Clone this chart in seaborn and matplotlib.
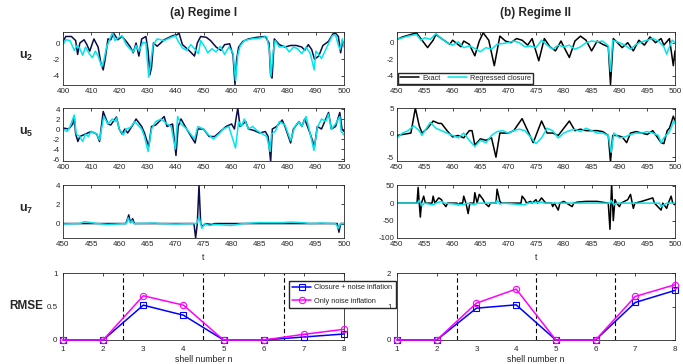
import numpy as np
import pandas as pd
import matplotlib
matplotlib.use("Agg")
import matplotlib.pyplot as plt
import seaborn as sns

sns.set_style("white")
plt.rcParams['font.family'] = ['Liberation Sans', 'DejaVu Sans']
plt.rcParams['mathtext.fontset'] = 'custom'
plt.rcParams['mathtext.rm'] = 'Liberation Sans'
plt.rcParams['mathtext.bf'] = 'Liberation Sans:bold'
plt.rcParams['axes.unicode_minus'] = False

# ---- Regime I, u2 ----
t_a2_ex = [400, 401, 403, 404.5, 405.2, 406, 407.5, 408.5, 409.5, 411, 412.5, 413.5, 414.3, 415, 416, 417, 418,
           419.5, 421, 422.5, 424, 425, 426, 427, 428, 429.5, 430.3, 430.9, 431.5, 432.2, 433.5, 436, 439, 440.5,
           441.3, 442.5, 444.5, 446.8, 447.8, 449, 451, 452.5, 454.5, 456.2, 457.5, 459.3, 460.5, 461.2, 461.8,
           462.5, 464, 466, 469, 472, 473.3, 473.9, 474.4, 475.2, 477, 479, 481, 483, 485, 486, 487.3, 488.5,
           489.5, 491, 492.5, 494.5, 496, 497, 498, 498.8, 499.5, 500]
u_a2_ex = [0.2, 0.8, 0.8, 0.3, -1.4, 0.0, 0.4, -0.2, -1.0, 0.5, -0.5, -2.5, -3.3, -2.0, 0.5, 0.4, 1.2,
           0.4, 0.8, 0.2, -0.5, -1.2, 0.0, -1.6, 0.5, 0.8, -1.0, -3.9, -3.0, 0.0, -0.4, 0.4, 0.9, 1.0,
           1.2, -0.2, -0.8, -1.6, 0.0, 0.8, 0.7, 0.3, -0.5, -0.9, -0.2, -0.1, -1.5, -5.1, -2.0,
           -0.5, 0.2, 0.5, 0.7, 0.8, 0.0, -4.0, -4.3, 0.5, -0.2, -0.5, -0.3, -0.3, -0.5, -0.9, -0.2, -0.8,
           -2.0, -1.6, -0.3, 0.2, 1.1, 1.2, 0.8, -1.2, 0.2, 0.0]
t_a2_rc = [400, 401, 402.5, 404, 405, 406, 407, 408, 409.5, 410.5, 411.5, 412.5, 413.8, 414.5, 415.5, 416.5,
           417.6, 418.5, 419.5, 421, 422.5, 423.5, 425, 426, 427, 428.5, 429.5, 430.5, 431.2, 432, 433.5, 436,
           438.5, 440, 441, 442.5, 444, 445.5, 447, 448.2, 449, 450.5, 451.5, 453, 454.5, 456, 457.5, 459,
           460.5, 461.4, 462.2, 463, 464.5, 467, 470, 472.5, 473.5, 474, 474.8, 475.5, 477, 479, 480.5, 482,
           483.5, 485, 486.5, 488, 489.4, 490, 491, 492, 493.5, 495, 495.8, 497, 498, 498.6, 499.4, 500]
u_a2_rc = [-0.2, 0.4, 0.3, -0.9, -0.3, -0.7, -1.5, -0.5, -1.4, -1.8, -1.0, -1.6, -2.9, -2.2, -0.5, 0.3,
           1.3, 0.3, 0.6, 0.9, -0.2, -0.6, -1.1, -0.3, -1.0, 0.1, 0.0, -4.2, -2.5, -0.3, 0.5, 0.3,
           0.7, 0.9, 0.2, -0.6, -0.9, -0.2, -0.8, -1.3, 0.3, -0.5, -1.2, -0.7, -1.1, -0.4, -1.4, -0.5,
           -1.2, -4.6, -1.5, -0.4, 0.3, 0.5, 0.6, 0.8, -1.0, -4.1, -1.0, 0.3, -0.5, -0.4, -1.1, -0.5,
           -0.7, -1.3, -0.5, -1.3, -3.3, -1.0, -1.4, -1.9, -0.8, 0.3, 0.9, 1.0, -0.3, -0.8, 0.5, -0.5]

# ---- Regime I, u5 ----
t_a5_ex = [400, 402, 403.5, 404, 404.5, 405.3, 406, 408, 410, 412, 413, 414.3, 416, 417, 419, 420, 421, 422,
           423, 424.5, 426, 428, 429, 430.5, 431.5, 433, 436, 437, 439, 440.2, 441, 442, 444, 447, 448, 450,
           452, 454, 456, 458, 460, 461, 462.2, 463, 465, 466, 468, 470, 472, 473, 473.9, 474.5, 476, 478,
           479, 481, 482, 484, 485, 486, 488, 489.5, 490.5, 492, 493.5, 494.5, 495.5, 497, 498.5, 499.3, 500]
u_a5_ex = [0.2, 0.0, 1.0, 2.5, -1.0, -2.5, -1.5, -1.0, -0.5, -1.0, -2.5, 3.5, 1.0, 0.8, 2.4, 0.0, -1.0, 0.0,
           -0.8, 0.5, 2.0, 0.5, -0.8, -3.5, 0.5, 0.8, 2.5, 0.5, 1.0, -5.3, 0.5, 2.0, 0.0, -2.8, 0.0, 0.0,
           -1.5, -1.5, -0.5, 0.5, 1.0, 0.0, 4.2, 0.5, 1.5, 0.0, -0.3, -0.8, -0.5, -1.5, -6.5, 0.0, 0.5, 1.8,
           0.5, -2.8, 0.0, 1.5, 0.5, 2.0, -1.0, -3.5, 0.5, 0.0, 2.0, 3.3, 0.0, 0.5, 3.3, 0.0, -0.5]
t_a5_rc = [400, 401.5, 402.5, 404, 404.7, 406, 407, 408, 409, 410, 412, 413, 414.5, 416, 417.5, 418.5, 419,
           420, 421.5, 422.5, 424, 425.5, 428, 429, 430.3, 431.5, 433, 435, 437, 438.5, 440, 440.8, 442, 444,
           446.8, 448, 450, 451.5, 453.5, 455.5, 457, 459, 461.4, 462.5, 463.5, 464.5, 466, 467.5, 469, 471,
           472.5, 473.7, 474.2, 475.5, 477, 479, 481, 482.5, 484, 485, 486.5, 488, 489.3, 490.5, 492, 493.5,
           494.5, 495.5, 497, 498.5, 499, 500]
u_a5_rc = [0.0, -0.5, 0.5, 2.8, -1.0, -1.5, -2.5, -1.0, -1.5, -0.5, -1.0, -2.2, 2.5, 1.0, 2.0, 1.5, 2.2,
           0.0, -1.2, 0.0, 0.3, 1.5, 0.0, -1.5, -4.5, 0.0, 1.5, 2.0, 1.0, 0.5, -4.0, 2.5, 1.0, 0.0,
           -2.0, 0.5, 0.0, -1.0, -2.0, -1.0, 0.0, 0.5, -3.8, 1.5, 0.5, 2.0, 0.0, 0.5, -0.3, -1.0,
           -1.5, -4.5, -1.0, -0.5, 1.5, 0.8, -2.3, 0.5, 1.5, 0.5, 2.5, -1.0, -4.3, 0.3, 2.0, 1.5,
           3.0, 0.0, 1.0, 2.5, -0.5, -1.2]

# ---- Regime I, u7 ----
t_a7_ex = [450, 461.2, 461.7, 462.0, 462.4, 462.7, 473.3, 473.6, 473.9, 474.2, 474.5, 474.8, 475.3, 476.5,
           477, 498.8, 499.1, 499.4, 500]
u_a7_ex = [0.0, 0.0, 0.9, 0.1, 0.5, 0.0, 0.0, -1.5, 0.0, 4.0, 0.0, -0.3, 0.0, -0.1,
           0.0, 0.0, -0.9, 0.0, 0.0]
t_a7_rc = [450, 453, 453.8, 455, 456, 458, 461.3, 461.6, 461.9, 462.3, 462.6, 466.5, 467, 470, 473.8, 474.2,
           474.7, 475.2, 476, 477, 480, 482, 485, 489, 490.5, 492.5, 494, 496, 498.5, 499, 499.4, 500]
u_a7_rc = [-0.05, 0.0, 0.2, 0.1, 0.0, -0.1, 0.0, 0.6, 0.1, 0.3, 0.0, 0.05, 0.0, -0.05, 0.0, 0.7,
           -0.5, 0.0, -0.2, -0.1, -0.2, 0.0, 0.1, 0.1, 0.15, 0.1, 0.0, 0.05, 0.0, -0.5, 0.0, 0.0]

# ---- Regime II, u2 ----
t_b2_ex = [450, 451, 452, 453.5, 454.5, 455.5, 456.5, 457, 458, 459.5, 460, 461.5, 462, 463, 464, 464.8, 465.5,
           466.5, 467.5, 468.5, 469.5, 470.5, 471.5, 472.5, 473.5, 474.3, 475.5, 476.5, 477.5, 478.5, 479.5,
           480, 481, 482, 483, 484, 485, 486, 487, 488, 488.4, 488.9, 489.5, 490.5, 491.5, 492.5, 493.5,
           494.5, 495.5, 496.5, 497.5, 498, 499, 499.7, 500]
u_b2_ex = [0.4, 0.7, 0.9, 1.2, 0.3, -0.6, 0.3, 1.0, 0.5, -0.2, 0.3, -0.5, 0.2, -0.2, -1.6, 0.2, 1.2,
           0.3, -2.8, 0.8, 0.2, 0.0, 0.5, 0.3, -0.3, 0.5, -2.2, 0.5, -0.5, -1.0, 0.2,
           -0.5, -1.8, 0.2, 0.8, 0.3, -1.0, 0.2, -0.2, -0.5, -5.1, 0.5, 0.1, -0.6, 0.0, -1.0, 0.3,
           -0.3, 0.7, 0.0, 0.5, -0.3, 0.5, -2.8, -1.0]
t_b2_rc = [450, 452, 453.5, 454.3, 455, 456, 457, 458, 459, 460, 461, 462, 463, 464, 465, 466, 467, 468, 470,
           471, 472, 473, 474, 475, 476, 477, 478, 479, 480, 481, 482, 483, 484, 485, 486, 487, 488, 488.4,
           488.8, 490, 491, 492, 493, 494, 495, 496, 497, 498, 498.5, 499, 499.5, 500]
u_b2_rc = [0.4, 0.8, 1.0, 0.3, 0.6, 0.4, 1.1, 0.5, 0.0, -0.3, 0.1, -0.6, -0.4, -0.7, -1.1, -0.6, -0.8, -0.2, 0.0,
           0.2, 0.0, -0.5, -0.4, -0.6, 0.3, -0.3, -0.8, -0.3, -0.5, -0.3, -0.8, -0.5, 0.0, 0.2, 0.1, 0.2, -0.4, -3.5,
           0.3, 0.0, -0.3, -0.8, -0.2, 0.1, 0.3, 0.5, 0.2, -0.5, -1.4, -0.5, 0.3, 0.0]

# ---- Regime II, u5 ----
t_b5_ex = [450, 451, 452.5, 453.3, 454, 454.5, 455.5, 456.5, 457.5, 458, 459, 460, 461, 462, 463, 463.5, 464,
           465, 466, 467, 467.8, 468.5, 470, 471, 472.5, 473.5, 474.5, 476, 477, 478, 479, 481, 482, 483, 484,
           485, 486, 487, 488, 488.4, 488.8, 489.5, 490.5, 491.3, 492, 493, 494, 495, 496, 497.5, 498, 498.6,
           499, 499.7, 500]
u_b5_ex = [-0.5, -0.3, 0.0, 5.2, 1.5, 0.0, 1.0, 2.5, 2.0, 2.0, 0.5, -0.8, -0.5, -1.0, 0.5, 0.5, -2.5,
           -1.2, -1.5, -1.0, -5.0, 0.0, 0.0, 0.5, 3.0, 0.5, -2.0, 2.5, 0.0, 0.0, -0.5, 2.5, 0.5, 0.8, 0.5,
           0.5, 0.5, 0.3, -0.5, -6.0, -0.5, -0.5, -0.8, -2.0, 0.0, 0.3, 0.0, -0.3, 0.5, -2.0, -2.2, 0.5,
           1.0, 3.5, 2.5]
t_b5_rc = [450, 451, 452, 453, 454, 454.5, 455, 456, 457, 458, 459, 460, 461, 462, 463, 464, 465, 466, 467,
           468, 469, 470, 471, 472, 473, 474, 475, 476, 477, 478, 479, 480, 481, 482, 483, 484, 485, 486, 487,
           488, 488.5, 489, 490, 491, 492, 493, 494, 495, 496, 497, 497.5, 498, 499, 499.8, 500]
u_b5_rc = [-1.0, 0.0, 0.5, 1.5, 0.5, -0.5, 0.5, 2.2, 1.0, 0.5, 0.0, -0.5, -1.0, 0.0, -1.5, -2.8, -1.5, -2.0, -0.5,
           0.3, 0.5, 0.0, 0.5, 0.8, 0.5, -0.8, -2.2, -1.0, 1.0, 0.5, -1.0, 0.0, 0.5, 0.8, 0.3, 1.0, 0.5, 0.0, 0.0,
           -0.5, -4.0, 0.0, -1.0, -0.8, -0.3, 0.0, 0.0, 0.3, 0.0, -0.5, -2.0, -1.0, 0.3, 2.5, 2.0]

# ---- Regime II, u7 ----
t_b7_ex = [450, 453.6, 453.8, 454.0, 454.2, 454.4, 454.8, 455.1, 456.3, 456.5, 456.8, 457.5, 458.0, 458.3,
           458.8, 459.1, 460.8, 461.0, 461.3, 461.8, 462.0, 462.4, 462.8, 463.1, 463.8, 464.0, 464.4, 464.8,
           465.5, 465.8, 466.5, 466.8, 467.8, 468.0, 468.5, 468.8, 472.3, 472.5, 473.0, 473.3, 474.0, 474.3,
           475.0, 475.3, 476.0, 476.5, 476.8, 477.8, 478.0, 478.3, 479.0, 479.3, 480.0, 481.5, 481.8, 482.5,
           484.0, 486.0, 488.0, 488.3, 488.6, 488.9, 489.2, 489.5, 490.0, 490.3, 491.5, 492.0, 492.5, 492.8,
           494.0, 496.0, 496.3, 497.5, 497.8, 498.5, 498.8, 499.3, 499.6, 500]
u_b7_ex = [0, 0, 45, 0, -40, 0, 20, 0, 0, 20, 0, 15, 10, 0,
           -10, 0, 0, -5, 0, 0, 20, 0, -30, 0, 0, 30, 0, 25,
           10, 0, -10, 0, 0, 40, 5, 0, 0, 20, 10, 0, 5, 0,
           10, 0, 15, 5, 0, 0, -10, 0, -20, 0, 5, -10, 0, 3,
           5, 5, 0, -75, 55, -50, 10, 0, -10, 0, 10, 25, -15, 0,
           5, 15, 0, -20, 0, -15, 0, 20, 0, -5]
t_b7_rc = [450, 453.7, 454.0, 454.5, 454.9, 456.5, 457.0, 458.0, 458.5, 462.0, 462.5, 464.0, 464.5, 467.8,
           468.0, 468.5, 469.0, 473.0, 473.5, 476.0, 476.5, 488.3, 488.5, 489.0, 489.4, 497.2, 497.5, 498.0,
           498.5, 500]
u_b7_rc = [0, 0, 8, -8, 0, -5, 0, 5, 0, -5, 0, -4, 0, 0,
           8, -3, 0, -5, 0, 3, 0, 0, 8, -5, 0, 0, -10, -5,
           0, 0]

# ---- RMSE vs shell number ----
shells = [1, 2, 3, 4, 5, 6, 7, 8]
rmse_a_closure = [0, 0, 0.52, 0.37, 0, 0, 0.045, 0.09]
rmse_a_noise = [0, 0, 0.66, 0.52, 0, 0, 0.085, 0.16]
rmse_b_closure = [0, 0, 0.95, 1.05, 0, 0, 1.12, 1.48]
rmse_b_noise = [0, 0, 1.10, 1.52, 0, 0, 1.30, 1.65]

EXACT_A = '#0c0c48'
EXACT_B = '#000000'
CYAN = '#00e5ee'
GRAY = '#262626'

W, H = 683, 364
fig = plt.figure(figsize=(W / 100, H / 100), dpi=100)


def box(x0, y0, x1, y1):
    return [x0 / W, 1 - y1 / H, (x1 - x0) / W, (y1 - y0) / H]


def style(ax):
    ax.tick_params(direction='in', length=2.5, width=0.6, labelsize=5.8, colors=GRAY,
                   top=True, right=True, pad=2)
    for s in ax.spines.values():
        s.set_color(GRAY)
        s.set_linewidth(0.6)
    ax.set_xlabel('')
    ax.set_ylabel('')


def series(ax, t_ex, u_ex, t_rc, u_rc, ex_color, lbl=False):
    sns.lineplot(x=t_ex, y=u_ex, ax=ax, color=ex_color, lw=1.1, estimator=None, sort=False,
                 label='Exact' if lbl else None)
    sns.lineplot(x=t_rc, y=u_rc, ax=ax, color=CYAN, lw=1.1, estimator=None, sort=False,
                 label='Regressed closure' if lbl else None)
    style(ax)


cols = [(63, 344), (397, 675)]
rows = [(32, 85), (108, 161), (185, 238), (273, 340)]

# Regime I
ax = fig.add_axes(box(cols[0][0], rows[0][0], cols[0][1], rows[0][1]))
series(ax, t_a2_ex, u_a2_ex, t_a2_rc, u_a2_rc, EXACT_A)
ax.set_xlim(400, 500); ax.set_ylim(-5.15, 1.35)
ax.set_xticks(np.arange(400, 501, 10)); ax.set_yticks([-4, -2, 0])

ax = fig.add_axes(box(cols[0][0], rows[1][0], cols[0][1], rows[1][1]))
series(ax, t_a5_ex, u_a5_ex, t_a5_rc, u_a5_rc, EXACT_A)
ax.set_xlim(400, 500); ax.set_ylim(-6.4, 4.2)
ax.set_xticks(np.arange(400, 501, 10)); ax.set_yticks([-6, -4, -2, 0, 2, 4])

ax = fig.add_axes(box(cols[0][0], rows[2][0], cols[0][1], rows[2][1]))
series(ax, t_a7_ex, u_a7_ex, t_a7_rc, u_a7_rc, EXACT_A)
ax.set_xlim(450, 500); ax.set_ylim(-1.5, 4)
ax.set_xticks(np.arange(450, 501, 5)); ax.set_yticks([0, 2, 4])

# Regime II
ax = fig.add_axes(box(cols[1][0], rows[0][0], cols[1][1], rows[0][1]))
series(ax, t_b2_ex, u_b2_ex, t_b2_rc, u_b2_rc, EXACT_B, lbl=True)
ax.set_xlim(450, 500); ax.set_ylim(-5.15, 1.3)
ax.set_xticks(np.arange(450, 501, 5)); ax.set_yticks([-4, -2, 0])
ax.legend(loc='lower left', ncol=2, fontsize=5.3, frameon=True, fancybox=False, edgecolor=GRAY,
          handlelength=2.6, columnspacing=1.0, borderpad=0.25, handletextpad=0.4,
          borderaxespad=0.2, framealpha=1)

ax = fig.add_axes(box(cols[1][0], rows[1][0], cols[1][1], rows[1][1]))
series(ax, t_b5_ex, u_b5_ex, t_b5_rc, u_b5_rc, EXACT_B)
ax.set_xlim(450, 500); ax.set_ylim(-5.8, 5.2)
ax.set_xticks(np.arange(450, 501, 5)); ax.set_yticks([-5, 0, 5])

ax = fig.add_axes(box(cols[1][0], rows[2][0], cols[1][1], rows[2][1]))
series(ax, t_b7_ex, u_b7_ex, t_b7_rc, u_b7_rc, EXACT_B)
ax.set_xlim(450, 500); ax.set_ylim(-100, 52)
ax.set_xticks(np.arange(450, 501, 5)); ax.set_yticks([-100, -50, 0, 50])

# RMSE panels
rmse_sets = [(rmse_a_closure, rmse_a_noise, 1), (rmse_b_closure, rmse_b_noise, 2)]
for i, (rc, rn, ymax) in enumerate(rmse_sets):
    ax = fig.add_axes(box(cols[i][0], rows[3][0], cols[i][1], rows[3][1]))
    for xv in [2.5, 4.5, 6.5]:
        ax.axvline(xv, color='k', ls=(0, (4, 2.5)), lw=0.8)
    sns.lineplot(x=shells, y=rc, ax=ax, color='#0000ff', lw=1.1, marker='s', markersize=4,
                 markerfacecolor='none', markeredgecolor='#0000ff', markeredgewidth=0.8,
                 label='Closure + noise inflation', clip_on=False, zorder=3)
    sns.lineplot(x=shells, y=rn, ax=ax, color='#ff00ff', lw=1.1, marker='o', markersize=4.5,
                 markerfacecolor='none', markeredgecolor='#ff00ff', markeredgewidth=0.8,
                 label='Only noise inflation', clip_on=False, zorder=3)
    style(ax)
    ax.tick_params(axis='x', pad=4)
    ax.tick_params(axis='y', pad=4)
    ax.set_xlim(1, 8); ax.set_ylim(0, ymax)
    ax.set_xticks(shells)
    ax.set_yticks([0, 0.5, 1] if ymax == 1 else [0, 1, 2])
    ax.set_yticklabels(['0', '0.5', '1'] if ymax == 1 else ['0', '1', '2'])
    ax.set_xlabel('shell number n', fontsize=6.3, color=GRAY, labelpad=1.5)
    if i == 0:
        ax.legend(loc='upper left', bbox_to_anchor=(285 / W, 1 - 277 / H), bbox_transform=fig.transFigure,
                  fontsize=5.3, frameon=True, fancybox=False, edgecolor=GRAY, framealpha=1,
                  handlelength=2.6, borderpad=0.45, labelspacing=0.9, handletextpad=0.4)
    else:
        ax.get_legend().remove()

# text labels
for lab, (y0, y1) in zip([r'$\mathbf{u_2}$', r'$\mathbf{u_5}$', r'$\mathbf{u_7}$'], rows[:3]):
    fig.text(26 / W, 1 - ((y0 + y1) / 2 - 2) / H, lab, fontsize=9, ha='center', va='center')
fig.text(26 / W, 1 - 306 / H, 'RMSE', fontsize=8.5, fontweight='bold', ha='center', va='center')
fig.text((cols[0][0] + cols[0][1]) / 2 / W, 1 - 13 / H, '(a) Regime I', fontsize=8.5,
         fontweight='bold', ha='center', va='center')
fig.text((cols[1][0] + cols[1][1]) / 2 / W, 1 - 13 / H, '(b) Regime II', fontsize=8.5,
         fontweight='bold', ha='center', va='center')
for c in cols:
    fig.text((c[0] + c[1]) / 2 / W, 1 - 258 / H, 't', fontsize=6.3, color=GRAY, ha='center', va='center')

fig.savefig('out.png', dpi=100)
